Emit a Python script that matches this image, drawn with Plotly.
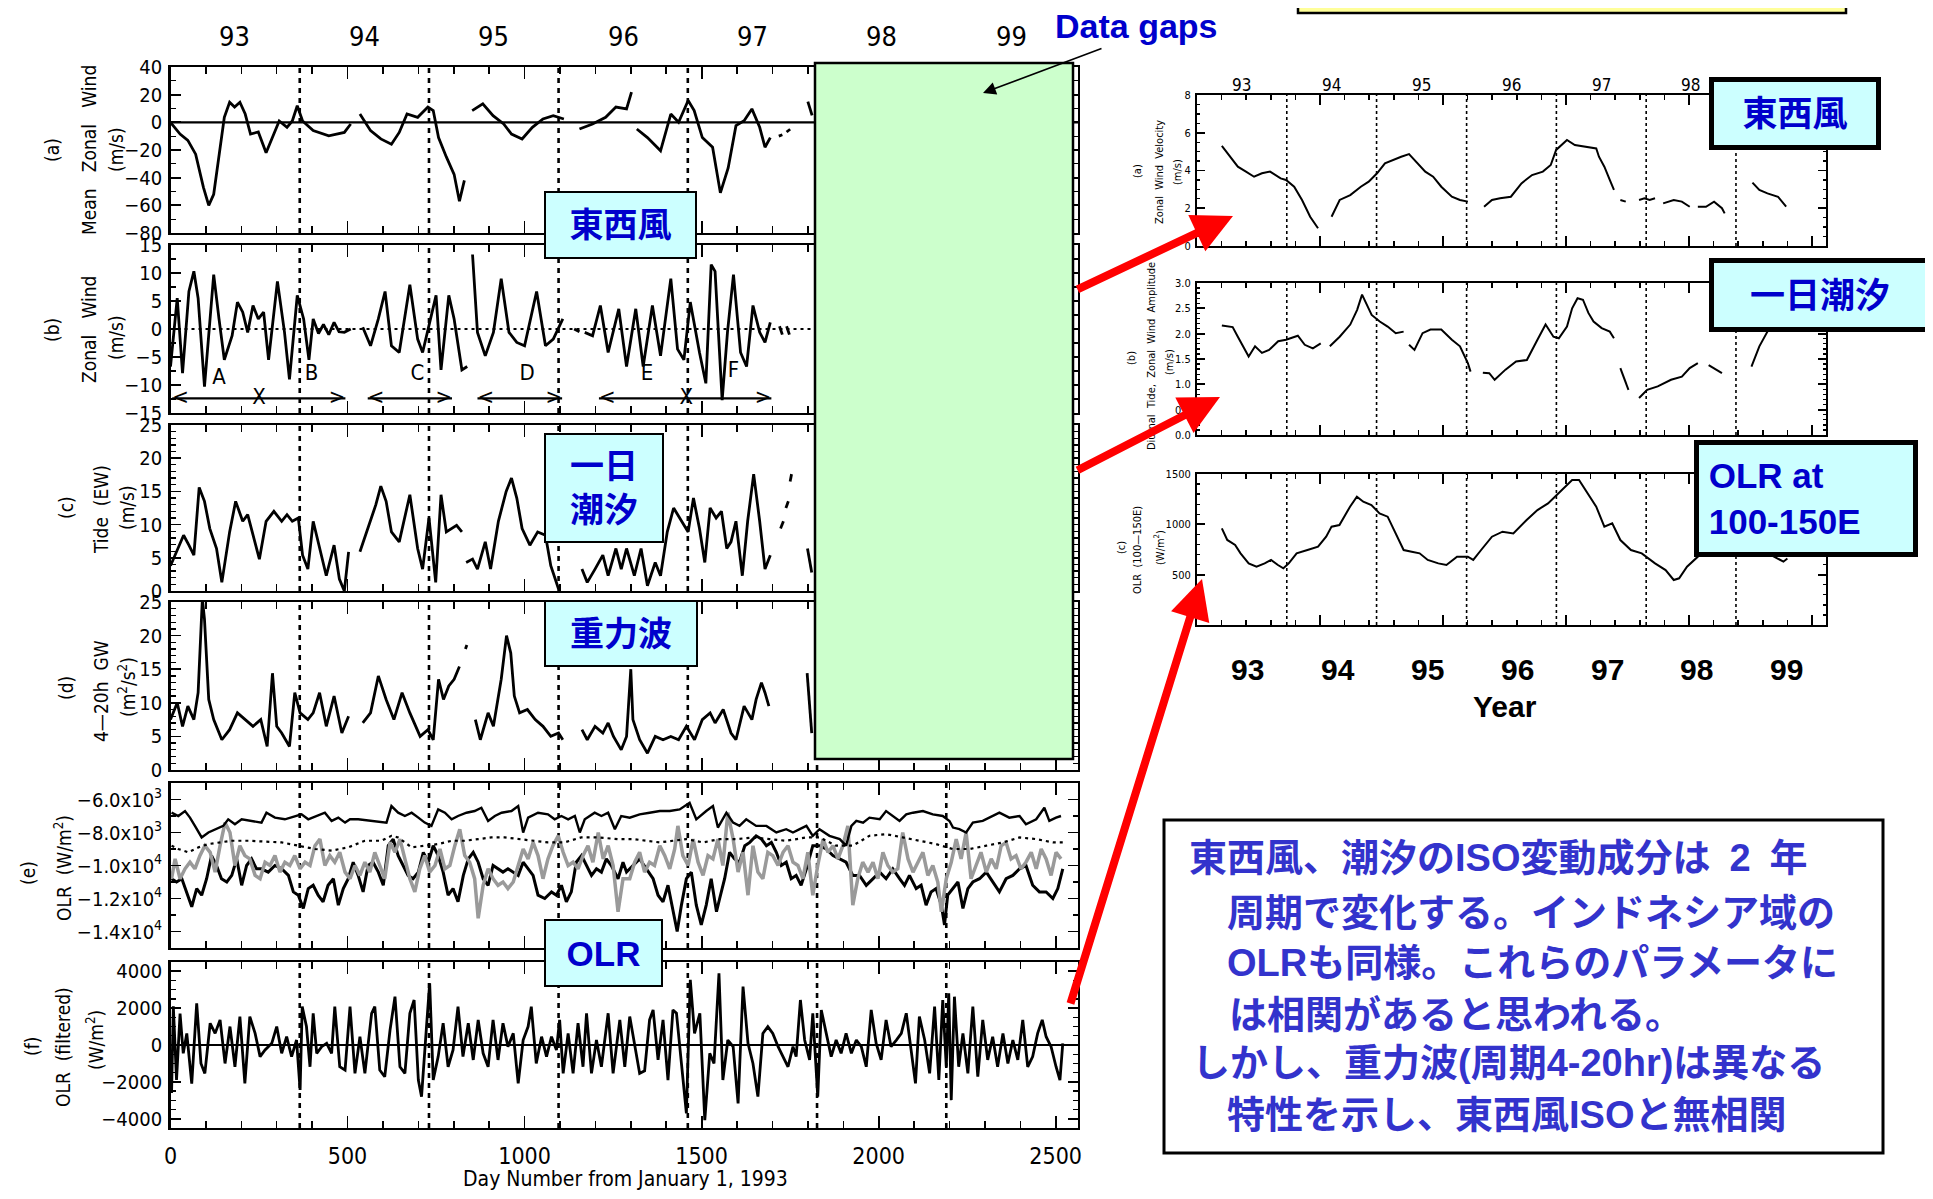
import plotly.graph_objects as go

W, H = 1933, 1199          # reference picture size
OFF = 8                     # browser body margin
FW, FH = W - 2 * OFF, H - 2 * OFF

# ------------------------------------------------------------------ data
YEAR_BOUNDS = [365, 730, 1096, 1461, 1826, 2191]
YEAR_MID = [182, 547, 913, 1278, 1643, 2008, 2374]
YEAR_LABELS = ["93", "94", "95", "96", "97", "98", "99"]
DAY_TICKS = [0, 500, 1000, 1500, 2000, 2500]

# (a) mean zonal wind
A_DAY = [0, 27, 49, 71, 93, 108, 122, 137, 152, 167, 181, 196, 211, 226, 248, 270, 285, 307, 329, 344,
         358, 373, 403, 447, 491, 509, None, 535, 565, 594, 624, 646, 668, 698, 727, 742, 757, 779, 801, 816,
         830, None, 852, 882, 911, 941, 963, 993, 1022, 1052, 1081, 1111, None, 1155, 1192, 1229, 1258, 1288,
         1302, None, 1317, 1347, 1384, 1413, 1435, 1462, 1479, 1502, 1531, 1553, 1575, 1597, 1620, 1642,
         1664, 1679, 1694, None, 1718, 1728, None, 1740, 1750, None, 1800, 1812]
A_VAL = [0, -8.5, -13, -23, -47, -60, -52, -25, 3.6, 14.5, 11, 14.5, 6, -8.5, -7, -22, -13, 1, -3.6, 1,
         12, 1, -6, -9.7, -7.3, -1.2, None, 6, -6, -12, -15.8, -7.3, 6, 3.6, 11, 8.5, -11, -25, -37.6, -57,
         -42, None, 8.5, 13.3, 4.8, -1.2, -8.5, -12, -3.6, 2.4, 4.8, 2.4, None, -4.8, -1.2, 3.6, 11, 9.7,
         21.8, None, -4.8, -11, -20.6, 6, 0, 15.8, 8.5, -11, -18, -51, -33, -2.4, 1.2, 9.7,
         -3.6, -18, -11, None, -10, -9, None, -7, -5, None, 15, 5]

# (b) zonal wind ISO
B_DAY = [0, 19, 34, 52, 66, 78, 96, 122, 137, 152, 174, 189, 204, 218, 233, 248, 263, 277, 302, 322,
         336, 358, 376, 391, 403, 418, 432, 447, 462, 476, 491, 509, None, 543, 565, 587, 606, 624, 646, 676,
         698, 712, 735, 750, 764, 786, 801, 823, 838, None, 853, 867, 889, 912, 934, 956, 978, 1000, 1034,
         1059, 1081, 1108, None, 1140, 1155, None, 1170, 1192, 1214, 1236, 1266, 1288, 1314, 1335, 1361,
         1384, 1413, 1432, 1450, 1468, 1494, 1512, 1527, 1538, 1558, 1573, 1590, 1610, 1627, 1645, 1664,
         1679, 1694, None, 1720, 1728, None, 1740, 1748]
B_VAL = [-6.7, 5.5, -7.9, 6.7, 10.3, 5.5, -10.3, 9.7, 1.8, -5.5, -1.2, 4.8, 3, -0.6, 4.2, 1.8, 3, -5.5, 8.5, -0.6,
         -9, 6, 1.8, -5.5, 1.8, -0.8, 0.8, -1, 1.2, -0.5, -0.6, 0, None, 0.3, -3, 1.8, 6.7, -3, -4.2, 7.9,
         -1.8, -4.2, 1.8, 6, -7.3, 6, 1.8, -7.3, -6.7, None, 13.3, -0.6, -4.8, -0.6, 9, -0.6, -2.4, -3, 6.7,
         -3, -1.8, 1.8, None, 0, -0.5, None, -0.6, -1.2, 4.2, -4.2, 3.6, -6.7, 3.6, -6.7, 4.2,
         -4.8, 9, -3.6, -5.5, 4.8, -4.2, -9.7, 11.5, 10.3, -12.7, -0.6, 9.7, -4.2, -6.7, 4.2, -0.6,
         -2.4, 1.2, None, 0.5, -1, None, 0.5, -1]
B_LETTERS = ["A", "B", "C", "D", "E", "F"]
B_LETTER_DAY = [137, 398, 697, 1007, 1346, 1590]
B_LETTER_VAL = [-8.8, -8.2, -8.2, -8.2, -8.2, -7.6]
B_SEG_START = [5, 557, 867, 1210]
B_SEG_END = [494, 795, 1106, 1697]
B_CROSS_DAY = [250, 1457]
B_SEG_LEVEL = -12.4

# (c) diurnal tide (EW)
C_DAY = [0, 22, 37, 52, 66, 81, 96, 111, 130, 145, 167, 184, 204, 218, 233, 251, 270, 292, 314, 329,
         344, 361, 373, 388, 403, 421, 440, 462, 477, 491, 503, None, 535, 557, 580, 594, 609, 624, 646, 676,
         698, 712, 730, 749, 764, 779, 794, 808, 823, None, 835, 853, 867, 889, 904, 926, 948, 963, 978, 993,
         1015, 1037, 1059, 1074, 1096, None, 1162, 1177, 1199, 1221, 1236, 1258, 1273, 1288, 1310, 1329,
         1347, 1369, 1384, 1403, 1421, 1443, 1462, 1477, 1494, 1509, 1524, 1541, 1556, 1571, 1583, 1597,
         1615, 1630, 1647, 1664, 1679, 1694, None, 1723, 1731, None, 1738, 1745, None, 1750, 1754, None,
         1799, 1811]
C_VAL = [3.8, 6.4, 8.4, 6.9, 5.4, 15.6, 13.5, 9.4, 6.4, 1.3, 8.9, 13.5, 10.5, 11.5, 8.4, 4.8, 10.5, 12, 10.5, 11.5,
         10.5, 11, 5.4, 3.3, 10.5, 6.4, 2.3, 6.9, 1.8, 0, 5.9, None, 5.9, 9.4, 13, 15.8, 13.5, 8.9, 7.4, 14.5,
         6.4, 3.3, 11, 1.3, 14.5, 8.9, 9.4, 9.9, 8.9, None, 4.3, 4.8, 3.3, 7.4, 3.3, 10.5, 15, 17, 14, 9.4,
         6.9, 8.9, 8.4, 3.8, 0.3, None, 3.3, 1.3, 3.3, 5.4, 2.3, 6.4, 3.3, 6.4, 2.3, 6.4,
         0.8, 4.3, 2.3, 8.9, 12.5, 10.5, 8.9, 14, 9.4, 4.3, 12.5, 11, 12, 6.4, 7.4, 10.5,
         2.3, 10.5, 17.6, 10.5, 3.3, 5.4, None, 9.4, 10.5, None, 12.5, 13.5, None, 16.5, 17.6, None,
         6.4, 2.8]

# (d) 4-20h gravity waves
D_DAY = [0, 19, 34, 49, 66, 78, 90, 96, 108, 122, 145, 167, 189, 211, 233, 255, 273, 288, 300, 314,
         336, 351, 366, 388, 403, 421, 440, 462, 484, 503, None, 543, 565, 587, 609, 631, 654, 676, 705, 727,
         742, 757, 771, 786, 801, 816, None, 833, 837, None, 861, 875, 897, 912, 934, 949, 961, 971, 986, 1008,
         1030, 1052, 1074, 1096, 1108, None, 1162, 1177, 1199, 1221, 1236, 1251, 1273, 1288, 1300, 1306,
         1325, 1347, 1369, 1391, 1413, 1435, 1457, 1480, 1502, 1524, 1538, 1561, 1583, 1597, 1620, 1642,
         1654, 1669, 1679, 1690, None, 1798, 1811]
D_VAL = [7.5, 10, 6.5, 9.5, 7.5, 11.5, 25.5, 22.4, 10.5, 7.5, 4.5, 6, 8.5, 7.5, 6.5, 7.5, 3.5, 14.4, 6.5, 5.5,
         3.5, 11.5, 8.5, 7.5, 8.5, 11.5, 6.5, 11, 5.5, 8, None, 7, 8.5, 14, 10.5, 7.5, 11.5, 8.5, 5, 6,
         4.5, 13.5, 10.5, 12.5, 13.5, 15.4, None, 18, 18.6, None, 7.5, 4.5, 8.5, 6.5, 13.5, 20, 17.4, 11, 8.5, 9,
         7.5, 6.5, 5, 5.5, 4.5, None, 6, 4.5, 6.5, 5.5, 7, 5, 3, 5, 15, 7.5,
         4.5, 2.5, 5, 4.5, 5, 4.5, 6.5, 4.5, 7.5, 8.5, 7, 9, 5.5, 4.5, 9.5, 7.5,
         10.5, 13, 11.5, 9.5, None, 14.4, 5.5]

# (e) OLR: upper, dotted, lower (black) and grey series
E_UP_DAY = [3, 22, 41, 55, 69, 88, 107, 126, 149, 163,
            182, 201, 229, 257, 271, 295, 323, 351, 370, 389,
            413, 436, 455, 474, 493, 507, 530, 568, 610, 624,
            643, 662, 681, 700, 718, 737, 756, 775, 794, 812,
            836, 859, 878, 897, 916, 935, 963, 982, 996, 1010,
            1038, 1066, 1085, 1104, 1123, 1142, 1156, 1170, 1198, 1217,
            1236, 1255, 1273, 1297, 1325, 1353, 1382, 1410, 1438, 1466,
            1485, 1513, 1532, 1546, 1570, 1589, 1607, 1626, 1654, 1683,
            1711, 1739, 1758, 1777, 1796, 1814, 1833, 1861, 1890, 1908,
            1923, 1937, 1956, 1974, 2003, 2021, 2040, 2059, 2078, 2097,
            2125, 2153, 2181, 2200, 2210, 2228, 2247, 2266, 2294, 2322,
            2341, 2369, 2398, 2416, 2445, 2468, 2482, 2501, 2515]
E_UP_VAL = [-6800, -7000, -6700, -7100, -7600, -8300, -8000, -7800, -7600, -7200,
            -7500, -7200, -7300, -7400, -6800, -7100, -7200, -7000, -6900, -7200,
            -7000, -6800, -7300, -7100, -7400, -7200, -7200, -7300, -7400, -6400,
            -6800, -7000, -6800, -7100, -7400, -7600, -6600, -6800, -7200, -7000,
            -6800, -6700, -6500, -7300, -7000, -6800, -6700, -6400, -8000, -7100,
            -6800, -6900, -7200, -7000, -7200, -7000, -8000, -7200, -6800, -7000,
            -6800, -7800, -7000, -7100, -6900, -6800, -6700, -6700, -6600, -6200,
            -7200, -6700, -6400, -7700, -6800, -7400, -7600, -7200, -7600, -7600,
            -8000, -7800, -8000, -7800, -7600, -8200, -7800, -8200, -8400, -8800,
            -7600, -7300, -7400, -7100, -7200, -6700, -7000, -7300, -6900, -6800,
            -6700, -6900, -7000, -7300, -7700, -7800, -8000, -7400, -7300, -7000,
            -6800, -7100, -7000, -7500, -7200, -6500, -7300, -7100, -7000]
E_DOT_DAY = [3, 22, 50, 79, 107, 135, 173, 220, 267, 314,
             361, 408, 455, 502, 549, 596, 624, 643, 681, 718,
             756, 794, 831, 869, 906, 944, 982, 1019, 1066, 1113,
             1160, 1207, 1264, 1306, 1344, 1382, 1419, 1457, 1504, 1551,
             1598, 1645, 1692, 1739, 1796, 1833, 1880, 1927, 1974, 2021,
             2068, 2115, 2162, 2209, 2257, 2304, 2351, 2398, 2445, 2492,
             2520]
E_DOT_VAL = [-8800, -9000, -9200, -8900, -8700, -8600, -8500, -8500, -8560, -8600,
             -8800, -9000, -9100, -8900, -8500, -8500, -8200, -8300, -8900, -8800,
             -8700, -8500, -8500, -8400, -8300, -8300, -8400, -8500, -8600, -8600,
             -8300, -8300, -8400, -8400, -8500, -8600, -8500, -8400, -8600, -8400,
             -8400, -8300, -8400, -8500, -8300, -8300, -8800, -8800, -8200, -8100,
             -8300, -8500, -8700, -9000, -9000, -8800, -8600, -8300, -8400, -8600,
             -8600]
E_LOW_DAY = [3, 17, 32, 46, 60, 74, 88, 102, 116, 130,
             144, 159, 173, 187, 201, 215, 229, 243, 257, 276,
             295, 314, 333, 347, 361, 375, 389, 403, 417, 431,
             445, 460, 474, 488, 502, 516, 530, 544, 558, 572,
             587, 601, 615, 629, 643, 657, 671, 685, 700, 714,
             728, 742, 756, 770, 784, 798, 812, 827, 841, 855,
             869, 883, 897, 911, 925, 939, 953, 968, 982, 996,
             1010, 1024, 1038, 1057, 1076, 1090, 1104, 1118, 1132, 1146,
             1161, 1175, 1189, 1203, 1217, 1231, 1245, 1264, 1278, 1288,
             1306, 1325, 1344, 1363, 1377, 1391, 1405, 1419, 1431, 1443,
             1457, 1471, 1485, 1499, 1513, 1527, 1542, 1551, 1565, 1579,
             1593, 1607, 1622, 1636, 1654, 1669, 1683, 1697, 1711, 1725,
             1739, 1753, 1767, 1781, 1796, 1814, 1833, 1852, 1871, 1890,
             1908, 1927, 1946, 1965, 1984, 2003, 2021, 2040, 2059, 2073,
             2087, 2106, 2120, 2134, 2148, 2162, 2177, 2186, 2195, 2209,
             2224, 2238, 2252, 2266, 2285, 2304, 2322, 2341, 2360, 2379,
             2398, 2416, 2435, 2454, 2473, 2492, 2506, 2520]
E_LOW_VAL = [-10800, -11000, -10800, -11600, -12500, -11400, -11800, -10800, -9400, -10000,
             -10800, -11000, -10600, -9600, -11200, -10000, -9600, -10200, -10200, -10400,
             -10000, -10200, -10600, -11600, -11800, -12600, -11400, -11200, -11800, -12200,
             -11200, -10800, -12400, -11400, -10800, -9800, -10600, -11600, -10000, -9800,
             -10400, -11200, -8800, -8400, -9400, -10000, -10600, -10800, -10400, -9200,
             -9800, -8800, -9400, -10400, -11800, -11400, -12200, -10600, -9600, -9200,
             -9800, -10800, -11200, -10000, -10200, -10400, -10200, -10400, -10600, -9800,
             -10200, -10600, -11800, -12000, -11600, -11800, -11200, -12200, -11600, -9800,
             -9400, -10000, -10600, -10200, -10400, -9600, -10000, -10800, -9800, -10400,
             -10000, -9600, -10200, -10800, -11800, -12200, -11200, -12800, -14000, -12400,
             -10800, -10400, -12400, -13600, -12400, -10800, -12800, -12000, -10800, -9200,
             -9600, -9800, -8800, -8600, -8200, -8400, -8800, -8600, -9200, -10000,
             -9800, -10800, -10600, -11200, -10200, -8800, -8800, -9000, -9400, -9600,
             -9800, -10600, -10600, -11200, -10800, -10400, -10800, -10200, -10800, -11200,
             -10600, -11400, -11200, -12400, -11600, -11400, -12400, -13600, -11800, -11400,
             -11000, -12600, -11400, -11000, -10800, -10400, -11000, -11600, -10800, -10600,
             -10200, -10000, -11200, -11600, -11600, -12000, -11400, -10200]
E_GRAY_DAY = [3, 13, 27, 41, 55, 69, 83, 97, 112, 126,
              140, 154, 168, 182, 196, 210, 224, 239, 253, 267,
              281, 295, 309, 323, 337, 351, 366, 380, 394, 408,
              422, 436, 450, 464, 478, 493, 507, 521, 535, 549,
              563, 577, 591, 605, 620, 634, 648, 662, 676, 690,
              704, 718, 732, 747, 761, 775, 789, 803, 817, 831,
              845, 859, 869, 883, 897, 911, 925, 939, 953, 968,
              982, 996, 1010, 1024, 1038, 1052, 1066, 1080, 1095, 1109,
              1123, 1137, 1151, 1165, 1179, 1193, 1208, 1222, 1236, 1250,
              1264, 1278, 1297, 1311, 1325, 1339, 1353, 1367, 1382, 1396,
              1410, 1424, 1433, 1447, 1462, 1476, 1490, 1504, 1518, 1532,
              1546, 1560, 1574, 1589, 1603, 1617, 1631, 1645, 1659, 1673,
              1687, 1701, 1716, 1730, 1744, 1758, 1772, 1786, 1800, 1814,
              1828, 1843, 1857, 1871, 1885, 1899, 1913, 1927, 1941, 1955,
              1970, 1984, 1998, 2012, 2026, 2040, 2054, 2068, 2083, 2097,
              2111, 2125, 2139, 2153, 2167, 2177, 2191, 2205, 2219, 2233,
              2247, 2261, 2275, 2289, 2304, 2318, 2332, 2346, 2360, 2374,
              2388, 2402, 2416, 2431, 2445, 2459, 2473, 2487, 2501, 2515]
E_GRAY_VAL = [-10800, -9600, -10800, -10200, -9800, -10200, -9400, -8800, -9200, -10400,
              -8800, -7400, -8000, -10000, -8800, -9400, -9600, -10600, -10800, -9800,
              -10000, -9400, -10400, -9800, -10000, -9400, -10200, -9800, -10000, -8800,
              -8400, -10000, -9400, -9800, -9200, -10400, -10800, -10000, -10600, -9800,
              -10400, -9200, -10000, -10800, -8600, -9200, -8400, -9600, -10800, -11600,
              -10200, -9400, -10400, -10000, -9000, -10200, -10000, -8800, -7800, -9400,
              -9800, -10800, -13200, -11200, -10200, -10800, -11200, -11000, -11400, -11000,
              -10000, -9000, -9600, -8600, -9400, -10800, -9600, -8800, -8200, -9200,
              -10000, -9800, -10200, -9400, -8800, -9800, -8000, -9600, -8800, -10000,
              -12800, -10800, -10800, -9800, -9200, -10400, -9800, -10000, -8800, -9400,
              -10200, -9000, -7600, -9400, -10000, -8400, -9800, -10600, -9400, -9600,
              -8400, -10000, -6800, -8400, -10400, -9200, -11800, -8800, -10400, -10800,
              -9200, -9400, -10000, -9200, -8800, -9800, -10000, -10800, -9200, -11800,
              -10000, -8400, -9200, -8800, -9600, -8800, -7600, -12400, -10800, -9800,
              -10400, -9800, -10800, -9200, -10000, -10400, -10200, -8000, -9600, -10400,
              -9800, -9200, -10600, -10000, -11000, -12800, -10800, -9800, -8400, -9600,
              -8000, -10800, -10000, -9200, -10400, -9600, -10200, -8800, -8600, -9600,
              -9400, -10200, -9800, -9200, -10200, -9000, -9600, -10600, -9200, -9600]
E_TICKVALS = [-6000, -8000, -10000, -12000, -14000]
E_TICKTEXT = ["\u22126.0x10<sup>3</sup>", "\u22128.0x10<sup>3</sup>", "\u22121.0x10<sup>4</sup>",
              "\u22121.2x10<sup>4</sup>", "\u22121.4x10<sup>4</sup>"]

# (f) filtered OLR
F_DAY = [3, 8, 17, 27, 36, 46, 60, 74, 86, 97,
         112, 126, 140, 154, 168, 182, 196, 210, 224, 239,
         253, 267, 286, 300, 314, 328, 342, 356, 366, 372,
         384, 394, 403, 413, 427, 441, 455, 464, 478, 493,
         507, 521, 535, 549, 568, 577, 591, 605, 620, 634,
         648, 662, 676, 688, 700, 709, 723, 732, 742, 756,
         770, 784, 798, 812, 826, 841, 855, 869, 883, 897,
         911, 925, 939, 953, 968, 982, 996, 1010, 1019, 1033,
         1048, 1062, 1076, 1090, 1099, 1109, 1123, 1137, 1151, 1165,
         1175, 1189, 1203, 1217, 1236, 1250, 1269, 1283, 1297, 1311,
         1325, 1339, 1353, 1363, 1377, 1391, 1405, 1419, 1429, 1443,
         1457, 1468, 1480, 1495, 1509, 1523, 1535, 1549, 1560, 1574,
         1589, 1603, 1617, 1631, 1645, 1659, 1673, 1687, 1701, 1716,
         1730, 1744, 1758, 1767, 1779, 1791, 1805, 1814, 1828, 1838,
         1852, 1866, 1880, 1894, 1908, 1923, 1937, 1951, 1965, 1979,
         1993, 2007, 2021, 2035, 2050, 2064, 2078, 2092, 2104, 2115,
         2130, 2144, 2158, 2170, 2181, 2191, 2198, 2205, 2214, 2226,
         2238, 2252, 2266, 2280, 2294, 2308, 2322, 2336, 2351, 2365,
         2379, 2393, 2407, 2421, 2435, 2449, 2462, 2473, 2487, 2501,
         2512, 2520]
F_VAL = [-2600, 2100, -1900, 1700, -450, 630, -2100, 2260, -1000, -1540,
         1180, 630, 1360, -1000, 1000, -1180, 1540, -2080, 1540, 630,
         -630, -270, 90, 1000, -450, 450, -630, 270, -2440, 2080,
         1000, -1180, 1720, -450, -90, 90, -450, 2080, -1180, -1360,
         2080, -1540, 450, -1540, 1720, 2080, -1360, -1720, 810, 2620,
         -1180, -1540, 1720, 2440, -1900, -2800, 1000, 3350, -1900, -630,
         1180, -1180, -270, 2080, -630, 1180, -810, 1360, -450, -1180,
         1360, -810, 1180, -90, 630, -2080, 270, 1000, 2080, -1000,
         450, -630, 450, -270, 1360, -1540, 630, -1540, 1180, -1180,
         1720, -1540, 270, -1180, 1720, -1540, 1360, -1180, 1540, -90,
         -1540, -1400, 1360, 1900, -810, 1360, -1900, 1900, 1720, -1000,
         -3700, 3530, 630, 1720, -4070, -450, -1000, 3890, -1900, 270,
         -90, -3170, 3170, 90, -1000, -2800, 630, 1000, 630, -90,
         -630, -1180, -90, -630, 2440, 270, -810, 1720, -2800, 1900,
         630, -630, 270, -450, 630, -450, 270, -90, -1180, 1900,
         90, -810, 1360, -90, 270, 630, 1720, -270, -2080, 1540,
         270, -1540, 2080, -1900, 2440, -1180, 2800, -2990, 2620, -1180,
         630, -1540, 2080, -1720, 1360, -810, 450, -1180, 630, -1000,
         270, -810, 1360, -1180, -630, 630, 1360, 450, -90, -1180,
         -1900, 90]

# right column: (a) zonal wind ISO amplitude, (b) diurnal tide amplitude, (c) OLR 100-150E
RA_DAY = [101, 166, 199, 232, 264, 297, 340, 362, 395, 427, 460, 492, None,
          547, 580, 623, 666, 698, 732, 764, 797, 830, 862, 895, 928, 960, 993, 1036, 1069, 1101, None,
          1167, 1199, 1232, 1276, 1319, 1362, 1406, 1438, 1460, 1493, 1504, 1536, 1580, 1623, 1634, 1656,
          1678, 1695, None, 1721, 1743, None, 1797, 1819, 1840, 1862, None, 1895, 1938, 1971, 2003, None,
          2036, 2069, 2102, 2134, 2145, None, 2258, 2286, 2319, 2362, 2395]
RA_VAL = [5.30, 4.20, 3.94, 3.67, 3.85, 3.94, 3.58, 3.50, 3.14, 2.44, 1.55, 0.94, None,
          1.55, 2.44, 2.70, 3.14, 3.41, 3.85, 4.38, 4.56, 4.73, 4.87, 4.38, 3.94, 3.67, 3.14, 2.61, 2.44, 2.35, None,
          2.08, 2.44, 2.53, 2.61, 3.32, 3.76, 3.94, 4.29, 5.09, 5.53, 5.62, 5.35, 5.26, 5.17, 4.73, 4.20,
          3.50, 2.97, None, 2.44, 2.35, None, 2.44, 2.53, 2.44, 2.53, None, 2.26, 2.44, 2.35, 2.08, None,
          2.08, 2.08, 2.35, 2.00, 1.73, None, 3.36, 2.97, 2.79, 2.61, 2.08]
RB_DAY = [101, 145, 166, 188, 210, 236, 264, 293, 330, 362, 410, 438, 471, 503, None,
          540, 580, 623, 651, 671, 688, 710, 743, 775, 808, 840, None,
          862, 884, 917, 949, 993, 1036, 1069, 1101, 1112, None,
          1162, 1188, 1210, 1254, 1297, 1341, 1384, 1417, 1449, 1471, 1504, 1525, 1547, 1569, 1591, 1612,
          1645, 1678, 1695, None, 1721, 1754, None, 1797, 1830, 1873, 1927, 1971, 2003, 2036, None,
          2080, 2134, None, 2254, 2286, 2319, 2384]
RB_VAL = [2.16, 2.13, 1.94, 1.75, 1.55, 1.75, 1.62, 1.68, 1.85, 1.88, 1.96, 1.78, 1.71, 1.81, None,
          1.75, 1.94, 2.18, 2.47, 2.77, 2.60, 2.37, 2.24, 2.14, 2.01, 2.04, None,
          1.78, 1.68, 2.01, 2.08, 2.08, 1.88, 1.75, 1.42, 1.25, None,
          1.23, 1.22, 1.09, 1.29, 1.45, 1.48, 1.88, 2.18, 1.94, 1.91, 2.14, 2.50, 2.70, 2.67, 2.41, 2.24,
          2.11, 2.04, 1.91, None, 1.32, 0.89, None, 0.73, 0.89, 0.96, 1.09, 1.15, 1.32, 1.42, None,
          1.38, 1.22, None, 1.35, 1.75, 2.04, 2.34]
RC_DAY = [101, 123, 155, 177, 210, 242, 275, 301, 329, 351, 373, 405, 449, 492, 525, 547, 579, 622, 650, 676,
          709, 742, 775, 807, 840, 873, 905, 938, 981, 1014, 1057, 1101, 1123, 1155, 1199, 1242, 1286, 1340,
          1384, 1427, 1462, 1492, 1525, 1553, 1579, 1623, 1656, 1688, 1721, 1764, 1808, 1862, 1905, 1938,
          1960, 1992, 2036, 2100, 2200, 2300, 2384, 2400]
RC_VAL = [960, 845, 795, 712, 612, 580, 612, 646, 596, 563, 612, 712, 745, 778, 877, 977, 993, 1175, 1275, 1225,
          1192, 1109, 1076, 910, 745, 728, 712, 646, 612, 596, 679, 679, 646, 745, 877, 927, 910, 1043,
          1142, 1208, 1291, 1358, 1440, 1440, 1341, 1175, 977, 1010, 844, 745, 712, 612, 546, 447,
          464, 579, 679, 760, 820, 740, 629, 660]

for _x, _y in [(A_DAY, A_VAL), (B_DAY, B_VAL), (C_DAY, C_VAL), (D_DAY, D_VAL), (E_UP_DAY, E_UP_VAL),
               (E_DOT_DAY, E_DOT_VAL), (E_LOW_DAY, E_LOW_VAL), (E_GRAY_DAY, E_GRAY_VAL), (F_DAY, F_VAL),
               (RA_DAY, RA_VAL), (RB_DAY, RB_VAL), (RC_DAY, RC_VAL)]:
    assert len(_x) == len(_y), (len(_x), len(_y))

LEFT_YTITLES = [["(a)", "Mean\u00a0\u00a0\u00a0Zonal\u00a0\u00a0\u00a0Wind", "(m/s)"],
                ["(b)", "Zonal\u00a0\u00a0\u00a0Wind", "(m/s)"],
                ["(c)", "Tide\u00a0\u00a0(EW)", "(m/s)"],
                ["(d)", "4\u201420h\u00a0\u00a0GW", "(m<sup>2</sup>/s<sup>2</sup>)"],
                ["(e)", "OLR\u00a0\u00a0(W/m<sup>2</sup>)"],
                ["(f)", "OLR\u00a0\u00a0(filtered)", "(W/m<sup>2</sup>)"]]
RIGHT_YTITLES = [["(a)", "Zonal\u00a0\u00a0Wind\u00a0\u00a0Velocity", "(m/s)"],
                 ["(b)", "Diurnal\u00a0\u00a0Tide,\u00a0\u00a0Zonal\u00a0\u00a0Wind\u00a0\u00a0Amplitude", "(m/s)"],
                 ["(c)", "OLR\u00a0\u00a0(100\u2014150E)", "(W/m<sup>2</sup>)"]]
X_TITLE = "Day Number from January 1, 1993"
NOTE_LINES = ["東西風、潮汐のISO変動成分は\u20022\u2002年",
              "周期で変化する。インドネシア域の",
              "OLRも同様。これらのパラメータに",
              "は相関があると思われる。",
              "しかし、重力波(周期4-20hr)は異なる",
              "特性を示し、東西風ISOと無相関"]


# ------------------------------------------------------------------ layout helpers
def PX(p):
    return (p - OFF) / FW


def PY(p):
    return 1 - (p - OFF) / FH


IDL = "Liberation Sans Narrow, DejaVu Sans Condensed, Arial Narrow, sans-serif"
JP = "Liberation Sans, Noto Sans CJK JP, sans-serif"
BOXBLUE = "#0000cc"
NOTEBLUE = "#3333cc"

LEFT_X = (170.5, 1078)
RIGHT_X = (1197, 1826)
LEFT_ROWS = [(67, 233), (245, 413), (425, 591), (602, 770), (783, 948), (962, 1128)]
RIGHT_ROWS = [(95, 246), (283, 435), (474, 625)]

LEFT_Y = [dict(range=[-80, 40], tickvals=[-80, -60, -40, -20, 0, 20, 40], minor=10),
          dict(range=[-15, 15], tickvals=[-15, -10, -5, 0, 5, 10, 15], minor=2.5),
          dict(range=[0, 25], tickvals=[0, 5, 10, 15, 20, 25], minor=1),
          dict(range=[0, 25], tickvals=[0, 5, 10, 15, 20, 25], minor=1),
          dict(range=[-15000, -5000], tickvals=E_TICKVALS, ticktext=E_TICKTEXT, minor=1000),
          dict(range=[-4500, 4500], tickvals=[-4000, -2000, 0, 2000, 4000], minor=500)]
RIGHT_Y = [dict(range=[0, 8], tickvals=[0, 2, 4, 6, 8], minor=0.5),
           dict(range=[0, 3], tickvals=[0, 0.5, 1, 1.5, 2, 2.5, 3], minor=0.1, tickformat=".1f"),
           dict(range=[0, 1500], tickvals=[0, 500, 1000, 1500], minor=100)]


def nm(i):
    return "" if i == 1 else str(i)


fig = go.Figure()
layout = dict(width=FW, height=FH, margin=dict(l=0, r=0, t=0, b=0, autoexpand=False), paper_bgcolor="white",
              plot_bgcolor="rgba(0,0,0,0)", showlegend=False)

for k in range(9):
    i = k + 1
    left = k < 6
    if left:
        top, bot = LEFT_ROWS[k]
        xd = LEFT_X
        spec = LEFT_Y[k]
        xr = [0, 2563]
        fs = 20
        lw = 2.4
        tl, mtl = 12, 7
    else:
        top, bot = RIGHT_ROWS[k - 6]
        xd = RIGHT_X
        spec = RIGHT_Y[k - 6]
        xr = [0, 2557]
        fs = 11
        lw = 2
        tl, mtl = 10, 5
    xa = dict(domain=[PX(xd[0]), PX(xd[1])], range=xr, anchor="y" + nm(i), showline=True, linecolor="black",
              linewidth=lw, mirror="allticks", ticks="inside", ticklen=tl, tickwidth=1.8, tickcolor="black",
              tickvals=DAY_TICKS, showgrid=False, zeroline=False, fixedrange=True,
              minor=dict(dtick=100, tick0=0, ticks="inside", ticklen=mtl, tickwidth=1.5, tickcolor="black"),
              showticklabels=(i == 6), tickfont=dict(family=IDL, size=23, color="black"),
              ticklabelstandoff=6)
    ya = dict(domain=[PY(bot), PY(top)], range=spec["range"], anchor="x" + nm(i), showline=True,
              linecolor="black", linewidth=lw, mirror="allticks", ticks="inside", ticklen=tl - 2,
              tickwidth=1.8, tickcolor="black", tickvals=spec["tickvals"], showgrid=False, zeroline=False,
              fixedrange=True, tickfont=dict(family=IDL, size=fs, color="black"), ticklabelstandoff=2,
              minor=dict(dtick=spec["minor"], ticks="inside", ticklen=mtl - 2, tickwidth=1.3,
                         tickcolor="black"))
    if "ticktext" in spec:
        ya["ticktext"] = spec["ticktext"]
    if "tickformat" in spec:
        ya["tickformat"] = spec["tickformat"]
    layout["xaxis" + nm(i)] = xa
    layout["yaxis" + nm(i)] = ya


def add(x, y, i, color="black", width=2.8, dash=None):
    fig.add_trace(go.Scatter(x=x, y=y, xaxis="x" + nm(i), yaxis="y" + nm(i), mode="lines",
                             line=dict(color=color, width=width, dash=dash), connectgaps=False,
                             hoverinfo="skip"))


add(A_DAY, A_VAL, 1)
add(B_DAY, B_VAL, 2)
add(C_DAY, C_VAL, 3)
add(D_DAY, D_VAL, 4)
add(E_LOW_DAY, E_LOW_VAL, 5, width=3)
add(E_GRAY_DAY, E_GRAY_VAL, 5, color="#9a9a9a", width=3.5)
add(E_UP_DAY, E_UP_VAL, 5, width=2.4)
add(E_DOT_DAY, E_DOT_VAL, 5, width=2.2, dash="3px,4px")
add(F_DAY, F_VAL, 6, width=2.8)
add(RA_DAY, RA_VAL, 7, width=2)
add(RB_DAY, RB_VAL, 8, width=2)
add(RC_DAY, RC_VAL, 9, width=2)

# panel (b): event segments and letters
seg_x, seg_y = [], []
for s, e in zip(B_SEG_START, B_SEG_END):
    seg_x += [s, e, None]
    seg_y += [B_SEG_LEVEL, B_SEG_LEVEL, None]
add(seg_x, seg_y, 2, width=2.2)
for xs, sym, pos in [(B_SEG_START, "<", "middle right"), (B_SEG_END, ">", "middle left"),
                     (B_CROSS_DAY, "X", "middle center")]:
    fig.add_trace(go.Scatter(x=xs, y=[B_SEG_LEVEL] * len(xs), xaxis="x2", yaxis="y2", mode="text",
                             text=[sym] * len(xs), textposition=pos,
                             textfont=dict(family=IDL, size=22, color="black"), hoverinfo="skip"))
fig.add_trace(go.Scatter(x=B_LETTER_DAY, y=B_LETTER_VAL, xaxis="x2", yaxis="y2", mode="text",
                         text=B_LETTERS, textposition="middle center",
                         textfont=dict(family=IDL, size=22, color="black"), hoverinfo="skip"))

# ------------------------------------------------------------------ shapes
shapes = []
for i in range(1, 10):
    left = i <= 6
    for b in YEAR_BOUNDS:
        shapes.append(dict(type="line", xref="x" + nm(i), yref="y" + nm(i) + " domain", x0=b, x1=b, y0=0, y1=1,
                           line=dict(color="black", width=2.6 if left else 1.6,
                                     dash="5px,5px" if left else "3px,3px"), layer="below"))
for i, dash in [(1, None), (2, "3px,4px"), (6, None)]:
    shapes.append(dict(type="line", xref="x" + nm(i) + " domain", yref="y" + nm(i), x0=0, x1=1, y0=0, y1=0,
                       line=dict(color="black", width=2.2, dash=dash), layer="below"))
shapes.append(dict(type="rect", xref="paper", yref="paper", x0=PX(815), x1=PX(1073), y0=PY(759), y1=PY(63),
                   fillcolor="#ccffcc", line=dict(color="black", width=2.5), layer="above"))
shapes.append(dict(type="rect", xref="paper", yref="paper", x0=PX(1298), x1=PX(1846), y0=PY(13), y1=PY(4),
                   fillcolor="#ffff99", line=dict(color="black", width=2.5), layer="above"))
shapes.append(dict(type="rect", xref="paper", yref="paper", x0=PX(1164), x1=PX(1883), y0=PY(1153), y1=PY(820),
                   fillcolor="white", line=dict(color="black", width=3), layer="above"))
layout["shapes"] = shapes

# ------------------------------------------------------------------ annotations
ann = []


def text(x, y, t, size, family=IDL, color="black", angle=0, xref="paper", xa="center", xshift=0):
    ann.append(dict(x=x, y=y, xref=xref, yref="paper", text=t, showarrow=False, textangle=angle,
                    xanchor=xa, yanchor="middle", xshift=xshift,
                    font=dict(family=family, size=size, color=color)))


BIG = "Liberation Sans Narrow, Liberation Sans, sans-serif"
for d, lab in zip(YEAR_MID, YEAR_LABELS):
    text(d, PY(37), lab, 27, xref="x")
    text(d, PY(85), lab, 17, xref="x7")
    text(d, PY(669), "<b>" + lab + "</b>", 30, family=BIG, xref="x7", xshift=6)
text(PX(1505), PY(706), "<b>Year</b>", 30, family=BIG)
text(PX(625), PY(1179), X_TITLE, 21)

LEFT_TITLE_POS = [[(52, 150), (89, 150), (116, 150)],
                  [(52, 330), (89, 330), (116, 338)],
                  [(66, 508), (101, 510), (127, 508)],
                  [(66, 688), (101, 691), (127, 687)],
                  [(28, 873), (63, 868)],
                  [(32, 1047), (63, 1047), (95, 1040)]]
RIGHT_TITLE_POS = [[(1137, 171), (1159, 172), (1177, 172)],
                   [(1132, 358), (1151, 356), (1169, 362)],
                   [(1121, 548), (1137, 550), (1159, 548)]]
for texts, poss in zip(LEFT_YTITLES, LEFT_TITLE_POS):
    for t, (x, y) in zip(texts, poss):
        text(PX(x), PY(y), t, 19, angle=-90)
for texts, poss in zip(RIGHT_YTITLES, RIGHT_TITLE_POS):
    for t, (x, y) in zip(texts, poss):
        text(PX(x), PY(y), t, 11, angle=-90)


def box(cx, cy, w, h, t, size, bw=2, align="center"):
    ann.append(dict(x=PX(cx), y=PY(cy), xref="paper", yref="paper", text=t, showarrow=False,
                    xanchor="center", yanchor="middle",
                    bgcolor="#ccffff", bordercolor="black", borderwidth=bw, borderpad=0,
                    width=w - 2 * bw, height=h - 2 * bw, align=align, valign="middle",
                    font=dict(family=JP, size=size, color=BOXBLUE)))


box(620.5, 225, 153, 68, "<b>東西風</b>", 34)
box(604, 488, 120, 110, "<b>一日<br>潮汐</b>", 34)
box(621, 633.5, 154, 67, "<b>重力波</b>", 34)
box(603, 953, 119, 68, "<b>OLR</b>", 35)
box(1795, 113.5, 172, 73, "<b>東西風</b>", 35, bw=5)
box(1820, 295, 222, 74, "<b>一日潮汐</b>", 35, bw=5)
box(1806, 498.5, 224, 117, "<b>\u00a0OLR at<br>\u00a0100-150E</b>", 35, bw=5, align="left")

NOTE_POS = [(1187, 858), (1225, 913), (1225, 963), (1227, 1015), (1190, 1063), (1225, 1115)]
for t, (x, y) in zip(NOTE_LINES, NOTE_POS):
    text(PX(x), PY(y), "<b>" + t + "</b>", 38, family=JP, color=NOTEBLUE, xa="left")

text(PX(1136), PY(26), "<b>Data gaps</b>", 34, family="Liberation Sans, Arial, sans-serif", color=BOXBLUE)
ann.append(dict(x=PX(983), y=PY(93), xref="paper", yref="paper", text="", showarrow=True, axref="pixel",
                ayref="pixel", ax=120, ay=-45, arrowhead=2, arrowsize=1.6, arrowwidth=1.6, arrowcolor="black"))

for (hx, hy), (tx, ty) in [((1233, 216), (1076, 290)), ((1220, 397), (1076, 471)), ((1202, 579), (1070, 1005))]:
    ann.append(dict(x=PX(hx), y=PY(hy), xref="paper", yref="paper", text="", showarrow=True, axref="pixel",
                    ayref="pixel", ax=tx - hx, ay=ty - hy, arrowhead=2, arrowsize=1.0, arrowwidth=8,
                    arrowcolor="#ff0000", standoff=0))

layout["annotations"] = ann
fig.update_layout(layout)

fig.write_html("out.html", config={"displayModeBar": False, "staticPlot": True})
